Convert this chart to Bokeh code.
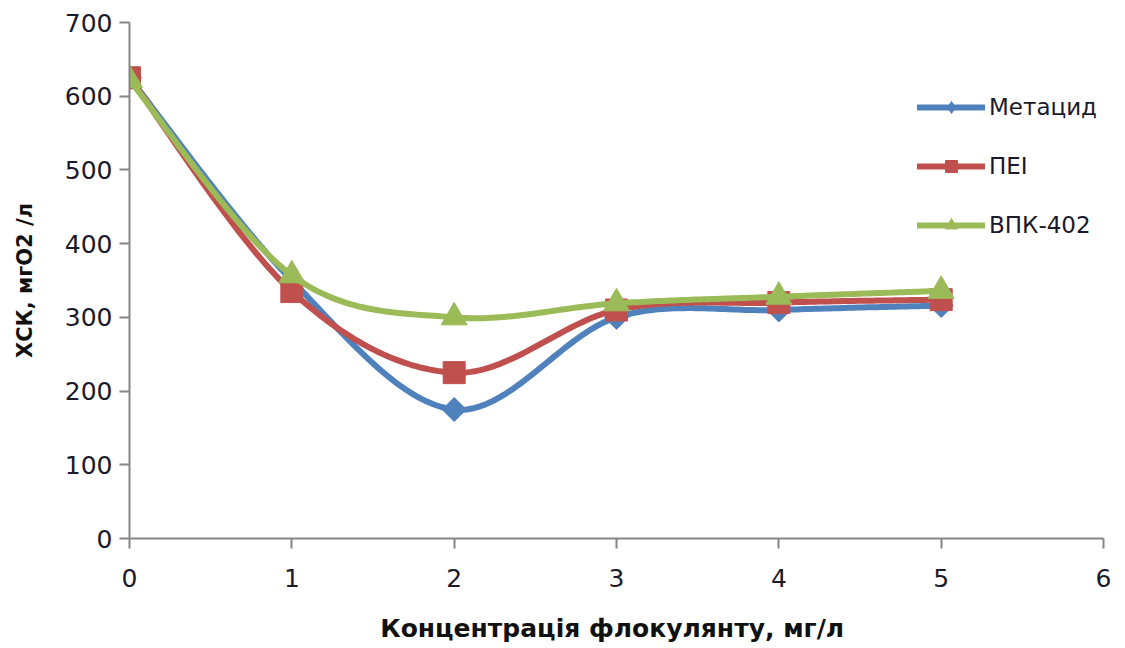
import numpy as np
from bokeh.plotting import figure
from bokeh.models import Legend, LegendItem, FixedTicker, Range1d
from bokeh.embed import file_html
from bokeh.resources import INLINE

x_vals = [0, 1, 2, 3, 4, 5]
metacid = [625, 350, 175, 300, 310, 316]
pei = [625, 335, 225, 310, 320, 324]
vpk = [622, 357, 300, 319, 328, 336]
series_names = ["Метацид", "ПЕІ", "ВПК-402"]
x_ticks = [0, 1, 2, 3, 4, 5, 6]
y_ticks = [0, 100, 200, 300, 400, 500, 600, 700]


def smooth(xs, ys, n=40):
    xs = np.asarray(xs, float)
    ys = np.asarray(ys, float)
    px, py = [], []
    m = len(xs)
    for i in range(m - 1):
        x0, y0 = xs[i], ys[i]
        x3, y3 = xs[i + 1], ys[i + 1]
        xm, ym = (xs[i - 1], ys[i - 1]) if i > 0 else (x0, y0)
        xp, yp = (xs[i + 2], ys[i + 2]) if i + 2 < m else (x3, y3)
        x1, y1 = x0 + (x3 - xm) / 6, y0 + (y3 - ym) / 6
        x2, y2 = x3 - (xp - x0) / 6, y3 - (yp - y0) / 6
        t = np.linspace(0, 1, n)
        bx = (1 - t) ** 3 * x0 + 3 * (1 - t) ** 2 * t * x1 + 3 * (1 - t) * t ** 2 * x2 + t ** 3 * x3
        by = (1 - t) ** 3 * y0 + 3 * (1 - t) ** 2 * t * y1 + 3 * (1 - t) * t ** 2 * y2 + t ** 3 * y3
        px.extend(bx.tolist())
        py.extend(by.tolist())
    return px, py


FONT = "DejaVu Sans"
p = figure(width=1120, height=645, output_backend="svg", toolbar_location=None,
           x_range=Range1d(0, 6), y_range=Range1d(0, 700),
           min_border_left=129, min_border_right=17, min_border_top=22, min_border_bottom=105)
p.outline_line_color = None
p.grid.grid_line_color = None
p.background_fill_color = "white"

for ax in (p.xaxis[0], p.yaxis[0]):
    ax.axis_line_color = "#868686"
    ax.axis_line_width = 2
    ax.major_tick_line_color = "#868686"
    ax.major_tick_line_width = 2
    ax.major_tick_out = 10
    ax.major_tick_in = 0
    ax.minor_tick_line_color = None
    ax.major_label_text_font = FONT
    ax.major_label_text_font_size = "25px"
    ax.major_label_text_color = "#1a1a2a"
    ax.axis_label_text_font = FONT
    ax.axis_label_text_font_style = "bold"
    ax.axis_label_text_color = "#111111"

p.xaxis.ticker = FixedTicker(ticks=x_ticks)
p.yaxis.ticker = FixedTicker(ticks=y_ticks)
p.xaxis.axis_label = "Концентрація  флокулянту, мг/л"
p.yaxis.axis_label = "ХСК, мгО2 /л"
p.xaxis.axis_label_text_font_size = "25px"
p.yaxis.axis_label_text_font_size = "21px"
p.xaxis.major_label_standoff = 20
p.yaxis.major_label_standoff = 7
p.xaxis.axis_label_standoff = 24
p.yaxis.axis_label_standoff = 25

colors = ["#4F81BD", "#C0504D", "#9BBB59"]
markers = ["square", "square", "triangle"]
angles = [np.pi / 4, 0, 0]
sizes = [17, 22, 26]
legend_markers = ["diamond", "square", "triangle"]
items = []
for name, ys, c, mk, ang, sz, lmk in zip(series_names, [metacid, pei, vpk], colors, markers,
                                         angles, sizes, legend_markers):
    sx, sy = smooth(x_vals, ys)
    ln = p.line(sx, sy, line_color=c, line_width=6, line_join="round", line_cap="round")
    p.scatter(x_vals, ys, marker=mk, size=sz, angle=ang, fill_color=c, line_color=c)
    lsc = p.scatter(x_vals, ys, marker=lmk, size=sz, fill_color=c, line_color=c, visible=False)
    items.append(LegendItem(label=name, renderers=[ln, lsc]))

legend = Legend(items=items, location=(788, 298), orientation="vertical",
                glyph_width=68, glyph_height=30, spacing=29, label_standoff=4,
                padding=0, margin=0, border_line_color=None, background_fill_alpha=0,
                label_text_font=FONT, label_text_font_size="23px", label_text_color="#1a1a2a")
p.add_layout(legend, "center")

open("out.html", "w").write(file_html(p, INLINE))
